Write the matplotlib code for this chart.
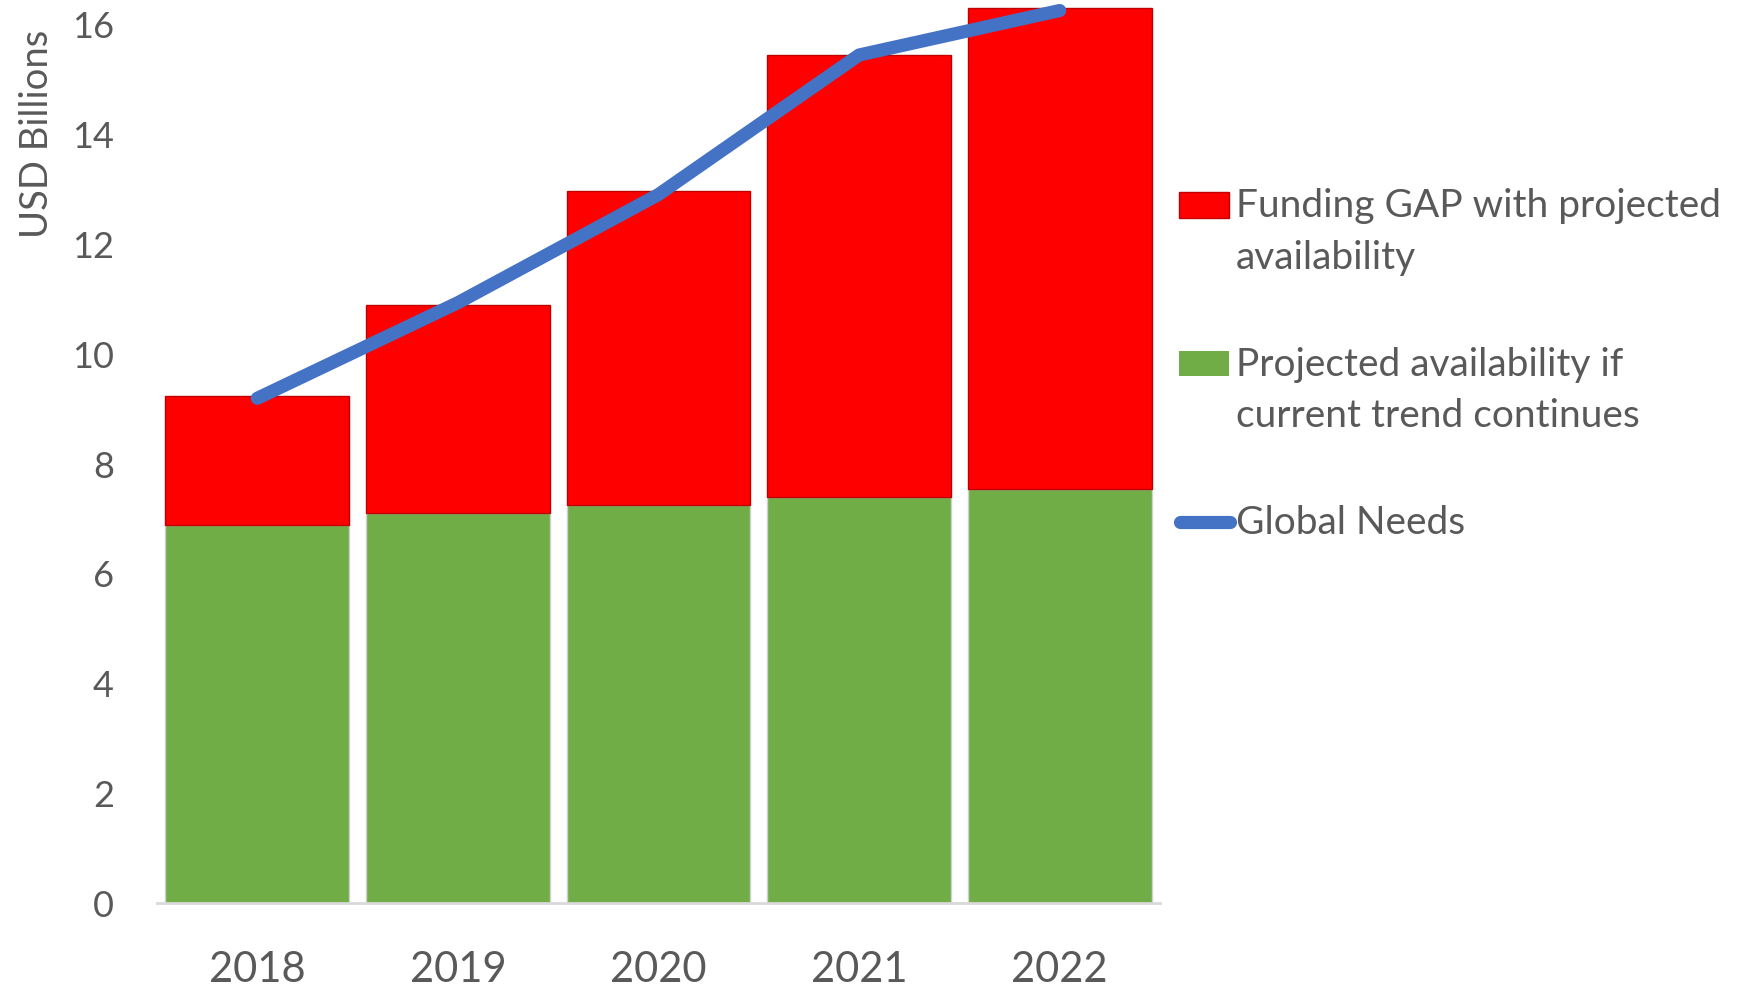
import matplotlib
matplotlib.use("Agg")
import matplotlib.pyplot as plt
from matplotlib.patches import Rectangle
from matplotlib.lines import Line2D

plt.rcParams['font.family'] = ['Lato', 'DejaVu Sans']

years = ["2018", "2019", "2020", "2021", "2022"]
projected = [6.88, 7.09, 7.23, 7.39, 7.53]
gap = [2.34, 3.79, 5.72, 8.04, 8.75]
global_needs = [9.18, 10.92, 12.89, 15.43, 16.24]
yticks = [0, 2, 4, 6, 8, 10, 12, 14, 16]

RED = '#FF0000'
GREEN = '#70AD47'
BLUE = '#4472C4'
TXT = '#595959'

W, H = 1749, 987
fig = plt.figure(figsize=(W / 100, H / 100), dpi=100)
ax = fig.add_axes([157 / W, 1 - 903.5 / H, (1160 - 157) / W, 903.5 / H])

x = list(range(len(years)))
ax.bar(x, projected, width=0.917, color=GREEN, edgecolor='#d0d0d0', linewidth=1.0, zorder=2)
ax.bar(x, gap, width=0.917, bottom=projected, color=RED, edgecolor='#C00000', linewidth=1.0, zorder=2)
ax.plot(x, global_needs, color=BLUE, linewidth=9.5, solid_capstyle='round', solid_joinstyle='round', zorder=3)

ax.set_xlim(-0.5, 4.5)
ax.set_ylim(0, 16.45)
ax.set_yticks(yticks)
ax.set_yticklabels([str(v) for v in yticks])
ax.set_xticks(x)
ax.set_xticklabels(years)
for s in ['left', 'right', 'top']:
    ax.spines[s].set_visible(False)
ax.spines['bottom'].set_color('#d9d9d9')
ax.spines['bottom'].set_linewidth(2)
ax.tick_params(axis='both', length=0, colors=TXT)
ax.tick_params(axis='y', labelsize=26, pad=31)
ax.tick_params(axis='x', labelsize=30, pad=34)

fig.text(37 / W, 1 - 134 / H, "USD Billions", rotation=90, ha='center', va='center', fontsize=27.5, color=TXT)

# legend
fig.patches.append(Rectangle((1179 / W, 1 - 219 / H), 50 / W, 26 / H, transform=fig.transFigure,
                             facecolor=RED, edgecolor='#C00000', linewidth=1))
fig.patches.append(Rectangle((1179 / W, 1 - 377 / H), 50 / W, 25 / H, transform=fig.transFigure,
                             facecolor=GREEN, edgecolor='none'))
fig.lines.append(Line2D([1180 / W, 1230 / W], [1 - 523 / H, 1 - 523 / H], transform=fig.transFigure,
                        color=BLUE, linewidth=9.5, solid_capstyle='round'))
lfs = 28
fig.text(1236 / W, 1 - 206 / H, "Funding GAP with projected", ha='left', va='center', fontsize=lfs, color=TXT)
fig.text(1236 / W, 1 - 258 / H, "availability", ha='left', va='center', fontsize=lfs, color=TXT)
fig.text(1236 / W, 1 - 365 / H, "Projected availability if", ha='left', va='center', fontsize=lfs, color=TXT)
fig.text(1236 / W, 1 - 416 / H, "current trend continues", ha='left', va='center', fontsize=lfs, color=TXT)
fig.text(1236 / W, 1 - 523 / H, "Global Needs", ha='left', va='center', fontsize=lfs, color=TXT)

fig.savefig("out.png", dpi=100)
